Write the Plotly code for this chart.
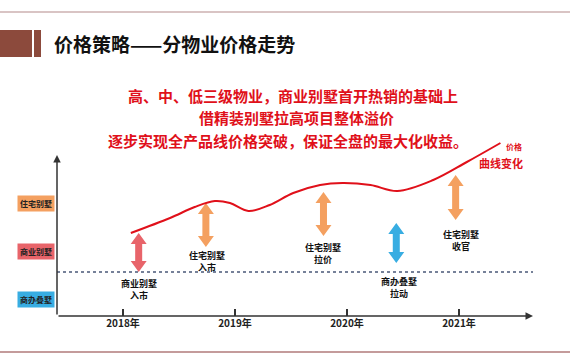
import plotly.graph_objects as go

# ---------------- data ----------------
curve_years = [2018.07, 2018.42, 2018.64, 2018.82, 2018.955, 2019.12, 2019.31, 2019.52,
               2019.76, 2019.96, 2020.21, 2020.45, 2020.77, 2021.07, 2021.37]
curve_values = [83, 98, 109, 115, 113, 105, 111, 123, 131, 133, 131, 125, 136, 154, 173]

event_years = [2018.14, 2018.74, 2019.79, 2020.44, 2020.97]
event_low = [44, 69, 80, 53, 96]
event_high = [83, 113, 124, 93, 141]
event_types = ["商业别墅", "住宅别墅", "住宅别墅", "商办叠墅", "住宅别墅"]
event_labels = ["商业别墅<br>入市", "住宅别墅<br>入市", "住宅别墅<br>拉价", "商办叠墅<br>拉动", "住宅别墅<br>收官"]

category_names = ["住宅别墅", "商业别墅", "商办叠墅"]
category_levels = [113, 65, 17]
baseline_level = 44

year_ticks = [2018, 2019, 2020, 2021]
year_labels = ["2018年", "2019年", "2020年", "2021年"]

title_text = "价格策略——分物业价格走势"
slogan_lines = ["高、中、低三级物业，商业别墅首开热销的基础上",
                "借精装别墅拉高项目整体溢价",
                "逐步实现全产品线价格突破，保证全盘的最大化收益。"]

# ---------------- style ----------------
W, H = 570, 360
L, R, T, B = 57, 37, 116, 44
PW, PH = W - L - R, H - T - B
X0 = 2018 - 66 / 112
X1 = 2018 + 410 / 112
Y_TOP = 161
YMAX = 200
XPX = PW / (X1 - X0)   # pixels per year
YPX = PH / YMAX        # pixels per unit

def pxx(px):  # paper x from pixel
    return (px - L) / PW

def pxy(py):  # paper y from pixel
    return (H - B - py) / PH

colors = {"住宅别墅": "#F4A060", "商业别墅": "#E8646A", "商办叠墅": "#38ADE2"}
FONT = "Noto Sans CJK SC"
RED = "#E0101A"
AXC = "#333333"

fig = go.Figure()

# event double arrows (polygons built from the event values through the axis scale)
SHAFT, HEADW, HEADL = 7, 16, 11
for yr, lo, hi, tp in zip(event_years, event_low, event_high, event_types):
    s = SHAFT / 2 / XPX
    h = HEADW / 2 / XPX
    hl = HEADL / YPX
    xs = [yr, yr + h, yr + s, yr + s, yr + h, yr, yr - h, yr - s, yr - s, yr - h, yr]
    ys = [hi, hi - hl, hi - hl, lo + hl, lo + hl, lo, lo + hl, lo + hl, hi - hl, hi - hl, hi]
    fig.add_trace(go.Scatter(x=xs, y=ys, mode="lines", fill="toself",
                             fillcolor=colors[tp], line=dict(width=0, color=colors[tp]),
                             hoverinfo="skip", showlegend=False))

fig.add_trace(go.Scatter(x=curve_years, y=curve_values, mode="lines",
                         line=dict(color=RED, width=2, shape="spline", smoothing=1.0),
                         hoverinfo="skip", showlegend=False))

annotations = []
shapes = []

# axes arrows
annotations.append(dict(x=X1, y=0, ax=X0, ay=0, xref="x", yref="y", axref="x", ayref="y",
                        showarrow=True, arrowhead=2, arrowsize=1, arrowwidth=1.5,
                        arrowcolor=AXC, text=""))
annotations.append(dict(x=X0, y=Y_TOP, ax=X0, ay=0, xref="x", yref="y", axref="x", ayref="y",
                        showarrow=True, arrowhead=2, arrowsize=1, arrowwidth=1.5,
                        arrowcolor=AXC, text=""))

# dotted baseline
shapes.append(dict(type="line", xref="x", yref="y", x0=X0, x1=X1, y0=baseline_level,
                   y1=baseline_level, line=dict(color="#4A5878", width=1.5, dash="dot")))

# event labels (pixel offsets below each arrow's lower end)
label_dy = [17, 14.5, 17, 24.5, 20]
label_dx = [0, 1, 0, 3, 5]
for yr, lo, lab, dy, dx in zip(event_years, event_low, event_labels, label_dy, label_dx):
    annotations.append(dict(x=yr, y=lo, xref="x", yref="y", showarrow=False, text=lab,
                            yanchor="middle", xanchor="center", yshift=-dy, xshift=dx,
                            font=dict(family=FONT, size=9, color="#111", weight="bold")))

# category boxes
for nm, lv in zip(category_names, category_levels):
    annotations.append(dict(x=pxx(36), y=lv / YMAX, xref="paper", yref="paper", showarrow=False,
                            text=nm, bgcolor=colors[nm], borderpad=2,
                            xanchor="center", yanchor="middle",
                            font=dict(family=FONT, size=8, color="#222", weight="bold")))

# header
shapes.append(dict(type="line", xref="paper", yref="paper", x0=pxx(0), x1=pxx(570),
                   y0=pxy(12), y1=pxy(12), line=dict(color="#CDB0B0", width=1.5)))
shapes.append(dict(type="line", xref="paper", yref="paper", x0=pxx(0), x1=pxx(570),
                   y0=pxy(352), y1=pxy(352), line=dict(color="#B07A7A", width=1.5)))
shapes.append(dict(type="rect", xref="paper", yref="paper", x0=pxx(0), x1=pxx(32),
                   y0=pxy(57), y1=pxy(30), fillcolor="#8C4A3C", line=dict(width=0)))
shapes.append(dict(type="rect", xref="paper", yref="paper", x0=pxx(34), x1=pxx(41),
                   y0=pxy(57), y1=pxy(30), fillcolor="#8C4A3C", line=dict(width=0)))
annotations.append(dict(x=pxx(52), y=pxy(44), xref="paper", yref="paper", showarrow=False,
                        text=title_text, xanchor="left", yanchor="middle",
                        font=dict(family=FONT, size=19, color="#111", weight="bold")))

# slogan
for line, cx, cy in zip(slogan_lines, [293, 296, 288], [95, 117, 140]):
    annotations.append(dict(x=pxx(cx), y=pxy(cy), xref="paper", yref="paper", showarrow=False,
                            text=line, xanchor="center", yanchor="middle",
                            font=dict(family=FONT, size=15, color=RED, weight="bold")))

annotations.append(dict(x=pxx(524), y=pxy(139), xref="paper", yref="paper", showarrow=False,
                        text="价格", font=dict(family=FONT, size=8, color=RED, weight="bold")))
annotations.append(dict(x=pxx(525), y=pxy(153), xref="paper", yref="paper", showarrow=False,
                        text="曲线变化", font=dict(family=FONT, size=11, color=RED, weight="bold")))

fig.update_layout(
    width=W, height=H, margin=dict(l=L, r=R, t=T, b=B),
    paper_bgcolor="white", plot_bgcolor="white",
    xaxis=dict(range=[X0, X1], showgrid=False, zeroline=False, showline=False,
               tickvals=year_ticks, ticktext=year_labels, ticks="inside", ticklen=7,
               tickwidth=1.5, tickcolor=AXC,
               tickfont=dict(family=FONT, size=10, color="#222", weight="bold")),
    yaxis=dict(range=[0, YMAX], visible=False),
    annotations=annotations, shapes=shapes, showlegend=False,
)

fig.write_html("out.html", config={"displayModeBar": False},
               post_script="document.body.style.margin='0';document.body.style.overflow='hidden';")
